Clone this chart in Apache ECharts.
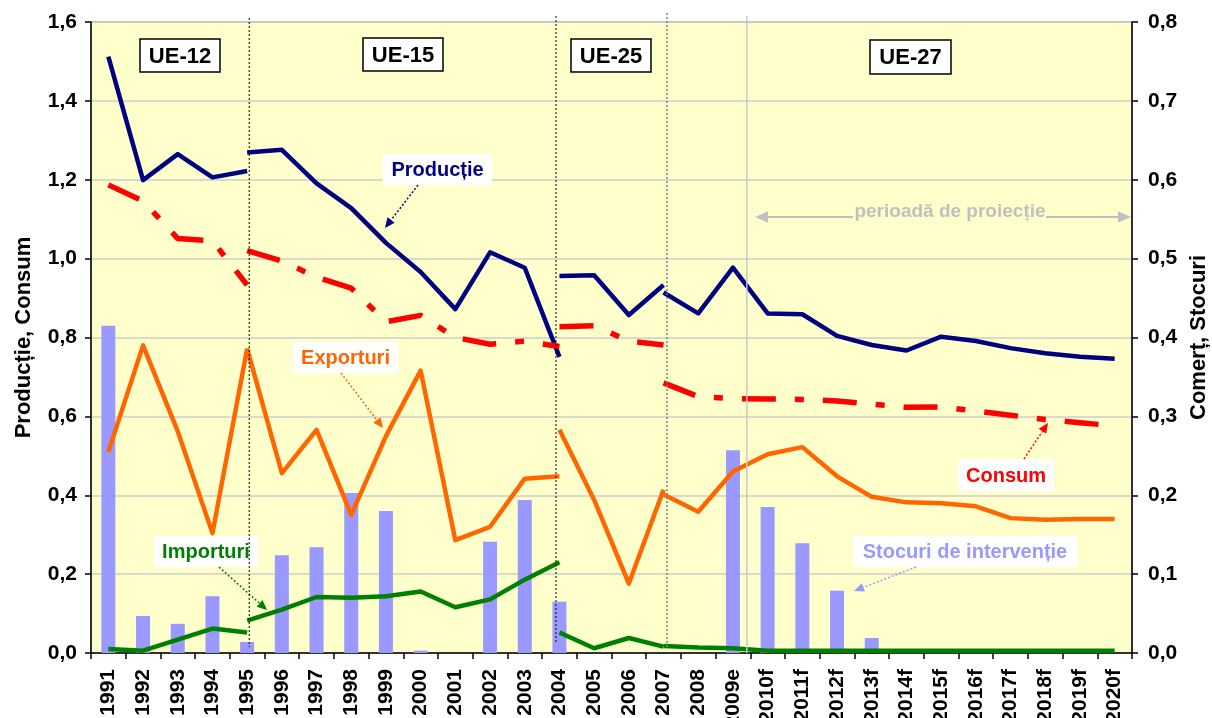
<!DOCTYPE html>
<html>
<head>
<meta charset="utf-8">
<script src="https://cdn.jsdelivr.net/npm/echarts@6/dist/echarts.min.js"></script>
<style>
html, body { margin: 0; padding: 0; background: #fff; }
#main { width: 1212px; height: 718px; }
</style>
</head>
<body>
<div id="main"></div>
<script>
var years = ['1991', '1992', '1993', '1994', '1995', '1996', '1997', '1998', '1999', '2000',
    '2001', '2002', '2003', '2004', '2005', '2006', '2007', '2008', '2009e', '2010f',
    '2011f', '2012f', '2013f', '2014f', '2015f', '2016f', '2017f', '2018f', '2019f', '2020f'];
var leftTicks = ['0,0', '0,2', '0,4', '0,6', '0,8', '1,0', '1,2', '1,4', '1,6'];
var rightTicks = ['0,0', '0,1', '0,2', '0,3', '0,4', '0,5', '0,6', '0,7', '0,8'];

// index of the first year of each period: UE-12, UE-15, UE-25, UE-27
var periodStart = [0, 4, 13, 16];

var productieUE12 = [1.512, 1.199, 1.265, 1.206, 1.222];
var productieUE15 = [1.269, 1.276, 1.191, 1.128, 1.040, 0.966, 0.872, 1.016, 0.977, 0.751];
var productieUE25 = [0.956, 0.958, 0.857, 0.933];
var productieUE27 = [0.914, 0.861, 0.977, 0.861, 0.859, 0.804, 0.781, 0.767, 0.802, 0.791, 0.773, 0.760, 0.751, 0.746];

var consumUE12 = [1.187, 1.146, 1.051, 1.045, 0.933];
var consumUE15 = [1.020, 0.994, 0.953, 0.925, 0.840, 0.856, 0.800, 0.783, 0.791, 0.777];
var consumUE25 = [0.827, 0.830, 0.791, 0.781];
var consumUE27 = [0.685, 0.650, 0.645, 0.644, 0.643, 0.639, 0.631, 0.623, 0.624, 0.614, 0.603, 0.592, 0.584, 0.576];

var exporturiUE12 = [0.255, 0.390, 0.281, 0.152, 0.386];
var exporturiUE15 = [0.386, 0.228, 0.283, 0.175, 0.275, 0.358, 0.143, 0.160, 0.221, 0.224];
var exporturiUE25 = [0.283, 0.194, 0.088, 0.207];
var exporturiUE27 = [0.201, 0.179, 0.230, 0.252, 0.261, 0.224, 0.198, 0.191, 0.190, 0.186, 0.171, 0.169, 0.170, 0.170];

var importuriUE12 = [0.005, 0.003, 0.017, 0.031, 0.026];
var importuriUE15 = [0.041, 0.055, 0.071, 0.070, 0.072, 0.078, 0.058, 0.068, 0.093, 0.115];
var importuriUE25 = [0.026, 0.006, 0.019, 0.008];
var importuriUE27 = [0.009, 0.007, 0.006, 0.003, 0.003, 0.003, 0.003, 0.003, 0.003, 0.003, 0.003, 0.003, 0.003, 0.003];

var stocuri = [0.415, 0.047, 0.037, 0.072, 0.014, 0.124, 0.134, 0.203, 0.180, 0.003,
    null, 0.141, 0.194, 0.065, null, null, null, null, 0.257, 0.185,
    0.139, 0.079, 0.019, null, null, null, null, null, null, null];

// separators, in category units from the left edge of the axis
var separatorPos = [4.56, 13.4, 16.6];
var projectionPos = 18.9;

var FONT = '"Liberation Sans", Arial, Helvetica, sans-serif';
var chart = echarts.init(document.getElementById('main'));

function pad(vals, start) {
    var out = years.map(function () { return null; });
    vals.forEach(function (v, i) { out[start + i] = v; });
    return out;
}

var lineDefs = [
    { name: 'Producție', parts: [productieUE12, productieUE15, productieUE25, productieUE27], color: '#000080', width: 4.5, type: 'solid', axis: 0 },
    { name: 'Consum', parts: [consumUE12, consumUE15, consumUE25, consumUE27], color: '#ff0000', width: 5.5, type: [34, 19, 9, 19], axis: 0 },
    { name: 'Exporturi', parts: [exporturiUE12, exporturiUE15, exporturiUE25, exporturiUE27], color: '#ff6600', width: 4.5, type: 'solid', axis: 1 },
    { name: 'Importuri', parts: [importuriUE12, importuriUE15, importuriUE25, importuriUE27], color: '#008000', width: 4.5, type: 'solid', axis: 1 }
];

var series = [{
    name: 'Stocuri de intervenție',
    type: 'bar',
    yAxisIndex: 1,
    data: stocuri,
    barWidth: 14,
    itemStyle: { color: '#9999ff' },
    silent: true,
    z: 1
}, {
    // carries the hidden positioning axis
    type: 'line',
    xAxisIndex: 1,
    yAxisIndex: 0,
    data: [],
    silent: true
}];

lineDefs.forEach(function (d) {
    d.parts.forEach(function (p, i) {
        series.push({
            name: d.name,
            type: 'line',
            yAxisIndex: d.axis,
            data: pad(p, periodStart[i]),
            showSymbol: false,
            symbol: 'none',
            connectNulls: false,
            silent: true,
            z: 3,
            lineStyle: { color: d.color, width: d.width, type: d.type, cap: 'butt', join: 'round' }
        });
    });
});

var axisLabelStyle = { color: '#000', fontFamily: FONT, fontWeight: 'bold', fontSize: 21 };

var option = {
    animation: false,
    backgroundColor: '#fff',
    grid: {
        left: 91, right: 80, top: 22, bottom: 65,
        show: true,
        backgroundColor: '#ffffcc',
        borderColor: '#808080',
        borderWidth: 1,
        containLabel: false,
        outerBoundsMode: 'none'
    },
    xAxis: [{
        type: 'category',
        data: years,
        axisLine: { lineStyle: { color: '#000', width: 1.5 } },
        axisTick: { show: true, length: 6, interval: 0, lineStyle: { color: '#000', width: 1.5 } },
        axisLabel: Object.assign({ rotate: 90, interval: 0, margin: 16 }, axisLabelStyle),
        splitLine: { show: false }
    }, {
        type: 'value',
        min: 0,
        max: 30,
        show: false
    }],
    yAxis: [{
        type: 'value',
        min: 0,
        max: 1.6,
        interval: 0.2,
        name: 'Producție, Consum',
        nameLocation: 'middle',
        nameGap: 56,
        nameTextStyle: { color: '#000', fontFamily: FONT, fontWeight: 'bold', fontSize: 22 },
        axisLine: { show: true, lineStyle: { color: '#000', width: 1.5 } },
        axisTick: { show: true, length: 6, lineStyle: { color: '#000', width: 1.5 } },
        axisLabel: Object.assign({ margin: 14, formatter: function (v) { return leftTicks[Math.round(v / 0.2)]; } }, axisLabelStyle),
        splitLine: { show: true, lineStyle: { color: '#cccccc', width: 1.5 } }
    }, {
        type: 'value',
        position: 'right',
        min: 0,
        max: 0.8,
        interval: 0.1,
        name: 'Comerț, Stocuri',
        nameLocation: 'middle',
        nameGap: 56,
        nameTextStyle: { color: '#000', fontFamily: FONT, fontWeight: 'bold', fontSize: 22 },
        axisLine: { show: true, lineStyle: { color: '#000', width: 1.5 } },
        axisTick: { show: true, length: 6, lineStyle: { color: '#000', width: 1.5 } },
        axisLabel: Object.assign({ margin: 16, formatter: function (v) { return rightTicks[Math.round(v / 0.1)]; } }, axisLabelStyle),
        splitLine: { show: false }
    }],
    series: series
};

chart.setOption(option);

// ---- annotations ----
function box(x, y, w, h, label, color, size, border) {
    return {
        type: 'group', silent: true, z: 100,
        children: [{
            type: 'rect',
            shape: { x: x, y: y, width: w, height: h },
            style: { fill: '#fff', stroke: border ? '#000' : null, lineWidth: border ? 1.5 : 0 }
        }, {
            type: 'text',
            x: x + w / 2, y: y + h / 2 + 1,
            style: { text: label, fill: color, font: 'bold ' + size + 'px ' + FONT, align: 'center', verticalAlign: 'middle' }
        }]
    };
}

function arrow(x1, y1, x2, y2, color, dashed, head, lw) {
    var dx = x2 - x1, dy = y2 - y1;
    var len = Math.sqrt(dx * dx + dy * dy);
    var ux = dx / len, uy = dy / len;
    var hl = head || 10, hw = hl * 0.45;
    var bx = x2 - ux * hl, by = y2 - uy * hl;
    return {
        type: 'group', silent: true, z: 100,
        children: [{
            type: 'line',
            shape: { x1: x1, y1: y1, x2: bx, y2: by },
            style: { stroke: color, lineWidth: lw || 1.5, lineDash: dashed ? [2, 2] : null }
        }, {
            type: 'polygon',
            shape: { points: [[x2, y2], [bx - uy * hw, by + ux * hw], [bx + uy * hw, by - ux * hw]] },
            style: { fill: color }
        }]
    };
}

function vline(pos, y1, y2, color, dash, lw) {
    var x = chart.convertToPixel({ xAxisIndex: 1 }, pos);
    return {
        type: 'line', silent: true, z: 90,
        shape: { x1: x, y1: y1, x2: x, y2: y2 },
        style: { stroke: color, lineWidth: lw, lineDash: dash }
    };
}

var graphics = [
    vline(separatorPos[0], 18, 647, '#000', [2, 2], 1),
    vline(separatorPos[1], 16, 643, '#000', [2, 2], 1),
    vline(separatorPos[2], 13, 648, '#808080', [2, 2], 1.5),
    vline(projectionPos, 16, 653, '#c8c8c8', null, 1.5),

    box(140, 39, 80, 33, 'UE-12', '#000', 22, true),
    box(363, 38, 80, 33, 'UE-15', '#000', 22, true),
    box(571, 39, 80, 33, 'UE-25', '#000', 22, true),
    box(870, 40, 81, 34, 'UE-27', '#000', 22, true),

    box(383, 154, 109, 31, 'Producție', '#000080', 20, false),
    arrow(418, 185, 385, 228, '#000080', true, 10),
    box(293, 342, 105, 31, 'Exporturi', '#ff6600', 20, false),
    arrow(341, 373, 383, 428, '#ff6600', true, 10),
    box(154, 536, 104, 31, 'Importuri', '#008000', 20, false),
    arrow(219, 567, 267, 610, '#008000', true, 10),
    box(958, 459, 96, 32, 'Consum', '#ff0000', 20, false),
    arrow(1024, 459, 1048, 423, '#ff0000', true, 10),
    box(853, 536, 224, 31, 'Stocuri de intervenție', '#9999ff', 20, false),
    arrow(916, 567, 854, 591, '#9999ff', true, 10),

    arrow(853, 217, 755, 217, '#c0c0c0', false, 13, 2),
    arrow(1046, 217, 1131, 217, '#c0c0c0', false, 13, 2),
    {
        type: 'text', silent: true, z: 100,
        x: 950, y: 212,
        style: { text: 'perioadă de proiecție', fill: '#c0c0c0', font: 'bold 19px ' + FONT, align: 'center', verticalAlign: 'middle' }
    }
];

chart.setOption({ graphic: graphics });
</script>
</body>
</html>
